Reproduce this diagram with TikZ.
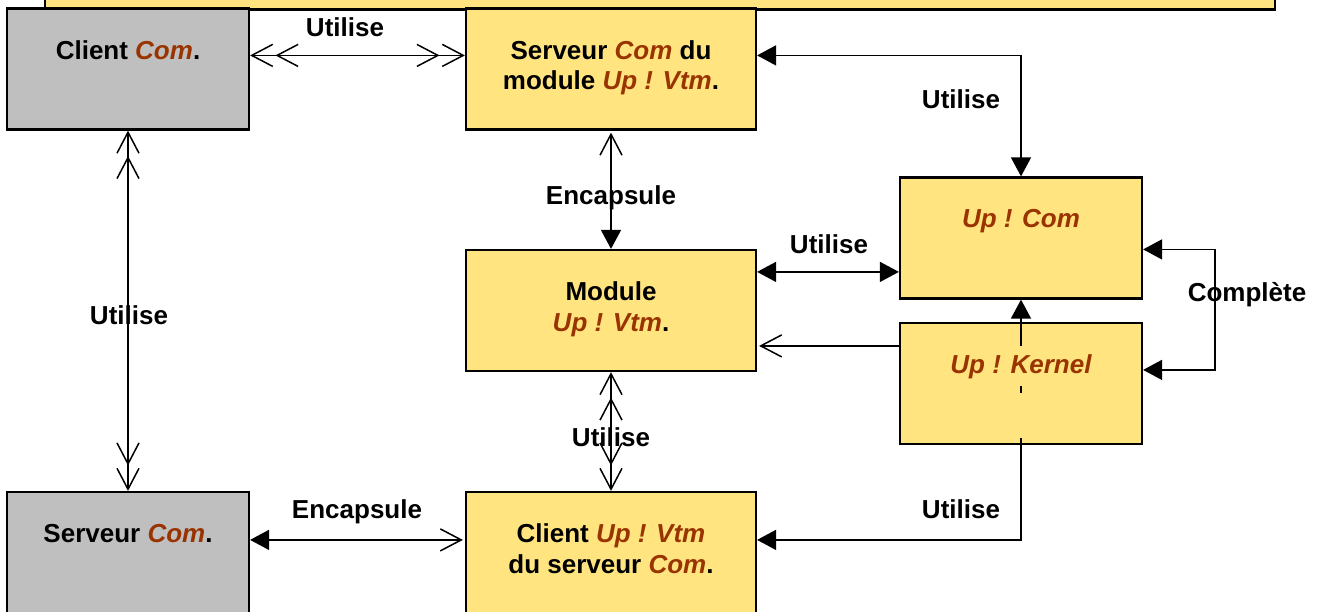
\documentclass[tikz,border=0pt]{standalone}
\usepackage{fontspec}
\setmainfont{Liberation Sans}
\usetikzlibrary{arrows.meta}
\definecolor{boxyellow}{HTML}{FFE480}
\definecolor{boxgray}{HTML}{BFBFBF}
\definecolor{brn}{HTML}{993300}
\newcommand\brw[1]{\textcolor{brn}{\itshape #1}}
\pgfdeclarelayer{bg}
\pgfsetlayers{bg,main}
\tikzset{
  oV/.tip={Straight Barb[length=21pt,width=22pt,sep=2pt]},
  dV/.tip={Straight Barb[length=21pt,width=22pt,sep=2pt] Straight Barb[length=21pt,width=22pt]},
  fT/.tip={Triangle[length=19pt,width=20pt]},
}
\begin{document}
\begin{tikzpicture}[x=1pt,y=-1pt,
  ybox/.style={draw=black, line width=2.2pt, fill=boxyellow, minimum width=290pt, minimum height=121pt, inner sep=0pt},
  sbox/.style={ybox, minimum width=242pt},
  gbox/.style={sbox, fill=boxgray},
  txt/.style={align=center, font=\bfseries\fontsize{26}{30.5}\selectfont, inner sep=0pt, anchor=north},
  lbl/.style={font=\bfseries\fontsize{26}{30.5}\selectfont, inner sep=0pt, anchor=base},
  conn/.style={draw=black, line width=1.5pt},
]
\useasboundingbox (0,0) rectangle (1320,611);
\clip (0,0) rectangle (1320,611);

% banner
\node[ybox, minimum width=1230pt, minimum height=60pt] (banner) at (660,-20.5) {};

% boxes
\node[gbox] (cc) at (128,69) {};
\node[ybox] (sm) at (611,69) {};
\node[sbox] (uc) at (1021,238) {};
\node[ybox] (mo) at (611,310.5) {};
\node[sbox] (uk) at (1021,383.5) {};
\node[gbox] (sc) at (128,552.5) {};
\node[ybox] (cv) at (611,552.5) {};

% box texts
\node[txt] (cct) at ([yshift=-33pt]cc.north) {Client \brw{Com}.};
\node[txt] (smt) at ([yshift=-33pt]sm.north) {Serveur \brw{Com} du\\module \brw{Up ! Vtm}.};
\node[txt] (uct) at ([yshift=-33pt]uc.north) {\brw{Up ! Com}};
\node[txt] (mot) at ([yshift=-33pt]mo.north) {Module\\\brw{Up ! Vtm}.};
\node[txt] (ukt) at ([yshift=-33pt]uk.north) {\brw{Up ! Kernel}};
\node[txt] (sct) at ([yshift=-33pt]sc.north) {Serveur \brw{Com}.};
\node[txt] (cvt) at ([yshift=-33pt]cv.north) {Client \brw{Up ! Vtm}\\du serveur \brw{Com}.};

% labels
\node[lbl] (l1) at (345,36) {Utilise};
\node[lbl] (l2) at (129,324) {Utilise};
\node[lbl] (l3) at (611,204) {Encapsule};
\node[lbl] (l4) at (829,253) {Utilise};
\node[lbl] (l5) at (961,108) {Utilise};
\node[lbl] (l6) at (1247,301) {Complète};
\node[lbl] (l7) at (611,446) {Utilise};
\node[lbl] (l8) at (357,518) {Encapsule};
\node[lbl] (l9) at (961,518) {Utilise};

% connectors
\draw[conn, dV-dV] ([yshift=-48pt]cc.north east) -- ([yshift=-48pt]sm.north west);
\draw[conn, dV-dV] (cc.south) -- (sc.north);
\draw[conn, oV-fT] (sm.south) -- (mo.north);
\coordinate (m1) at ([yshift=-23pt]mo.north east);
\draw[conn, fT-fT] (m1) -- (m1 -| uc.west);
\draw[conn, fT-fT] ([yshift=-48pt]sm.north east) -| (uc.north);
\coordinate (k1) at ([yshift=-24pt]uk.north west);
\draw[conn, -oV] (k1) -- (k1 -| mo.east);
\coordinate (c1) at ([yshift=-73pt]uc.north east);
\coordinate (c2) at ([yshift=-48pt]uk.north east);
\draw[conn, fT-fT] (c1) -- ++(72,0) |- (c2);
\draw[conn, dV-dV] (mo.south) -- (cv.north);
\draw[conn, fT-oV] ([yshift=-49pt]sc.north east) -- ([yshift=-49pt]cv.north west);
\begin{pgfonlayer}{bg}
\draw[conn, fT-fT] ([yshift=-49pt]cv.north east) -| (uc.south);
\end{pgfonlayer}
% visible pieces of the line crossing Up ! Kernel
\draw[conn] (uc.south |- uk.north) -- ++(0,24);
\draw[conn] (1021,386) -- (1021,393);
\draw[conn] (uc.south |- uk.south) -- ++(0,-7);
\end{tikzpicture}
\end{document}
